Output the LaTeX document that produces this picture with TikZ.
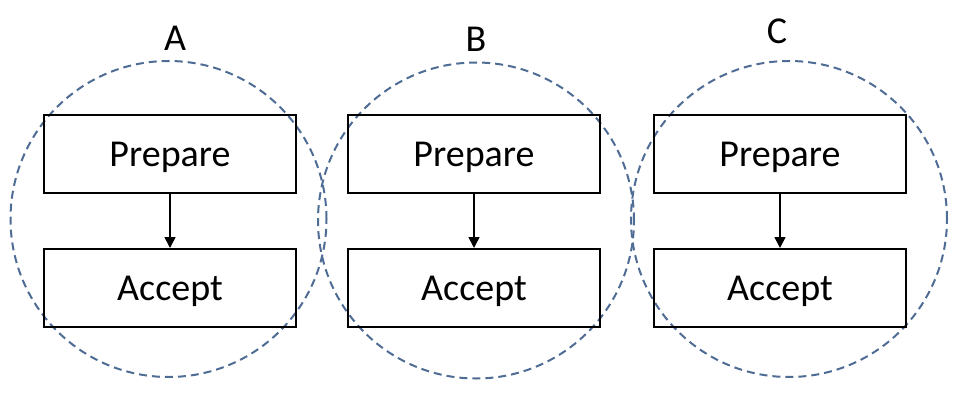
\documentclass[tikz,border=0pt]{standalone}
\usepackage{fontspec}
\setmainfont{Carlito}
\usetikzlibrary{arrows.meta}

\begin{document}
\begin{tikzpicture}[x=1pt,y=-1pt,-{Triangle[length=11pt,width=11pt]},line width=1.6pt,
  stage/.style={rectangle,draw,line width=2pt,minimum width=252pt,minimum height=78pt,inner sep=0pt,text height=24.5pt,text depth=0pt,font=\fontsize{38}{40}\selectfont},
  ring/.style={circle,draw=ringblue,line width=2pt,dash pattern=on 8pt off 5pt,minimum size=316pt,inner sep=0pt},
  tag/.style={inner sep=0pt,text height=24.5pt,text depth=0pt,font=\fontsize{38}{40}\selectfont}]
  \definecolor{ringblue}{RGB}{78,108,148}
  \useasboundingbox (0,0) rectangle (972,404);

  \node[ring] (ringA) at (168.5,219) {};
  \node[ring] (ringB) at (476,220.5) {};
  \node[ring] (ringC) at (789,219) {};

  \node[tag] (tagA) at (175,38.5) {A};
  \node[tag] (tagB) at (476,39) {B};
  \node[tag] (tagC) at (777,31) {C};

  \node[stage] (prepA) at (170,154) {Prepare};
  \node[stage] (accA) at (170,288) {Accept};
  \node[stage] (prepB) at (474,154) {Prepare};
  \node[stage] (accB) at (474,288) {Accept};
  \node[stage] (prepC) at (780,154) {Prepare};
  \node[stage] (accC) at (780,288) {Accept};

\path
  (prepA) edge (accA)
  (prepB) edge (accB)
  (prepC) edge (accC)
;
\end{tikzpicture}
\end{document}
